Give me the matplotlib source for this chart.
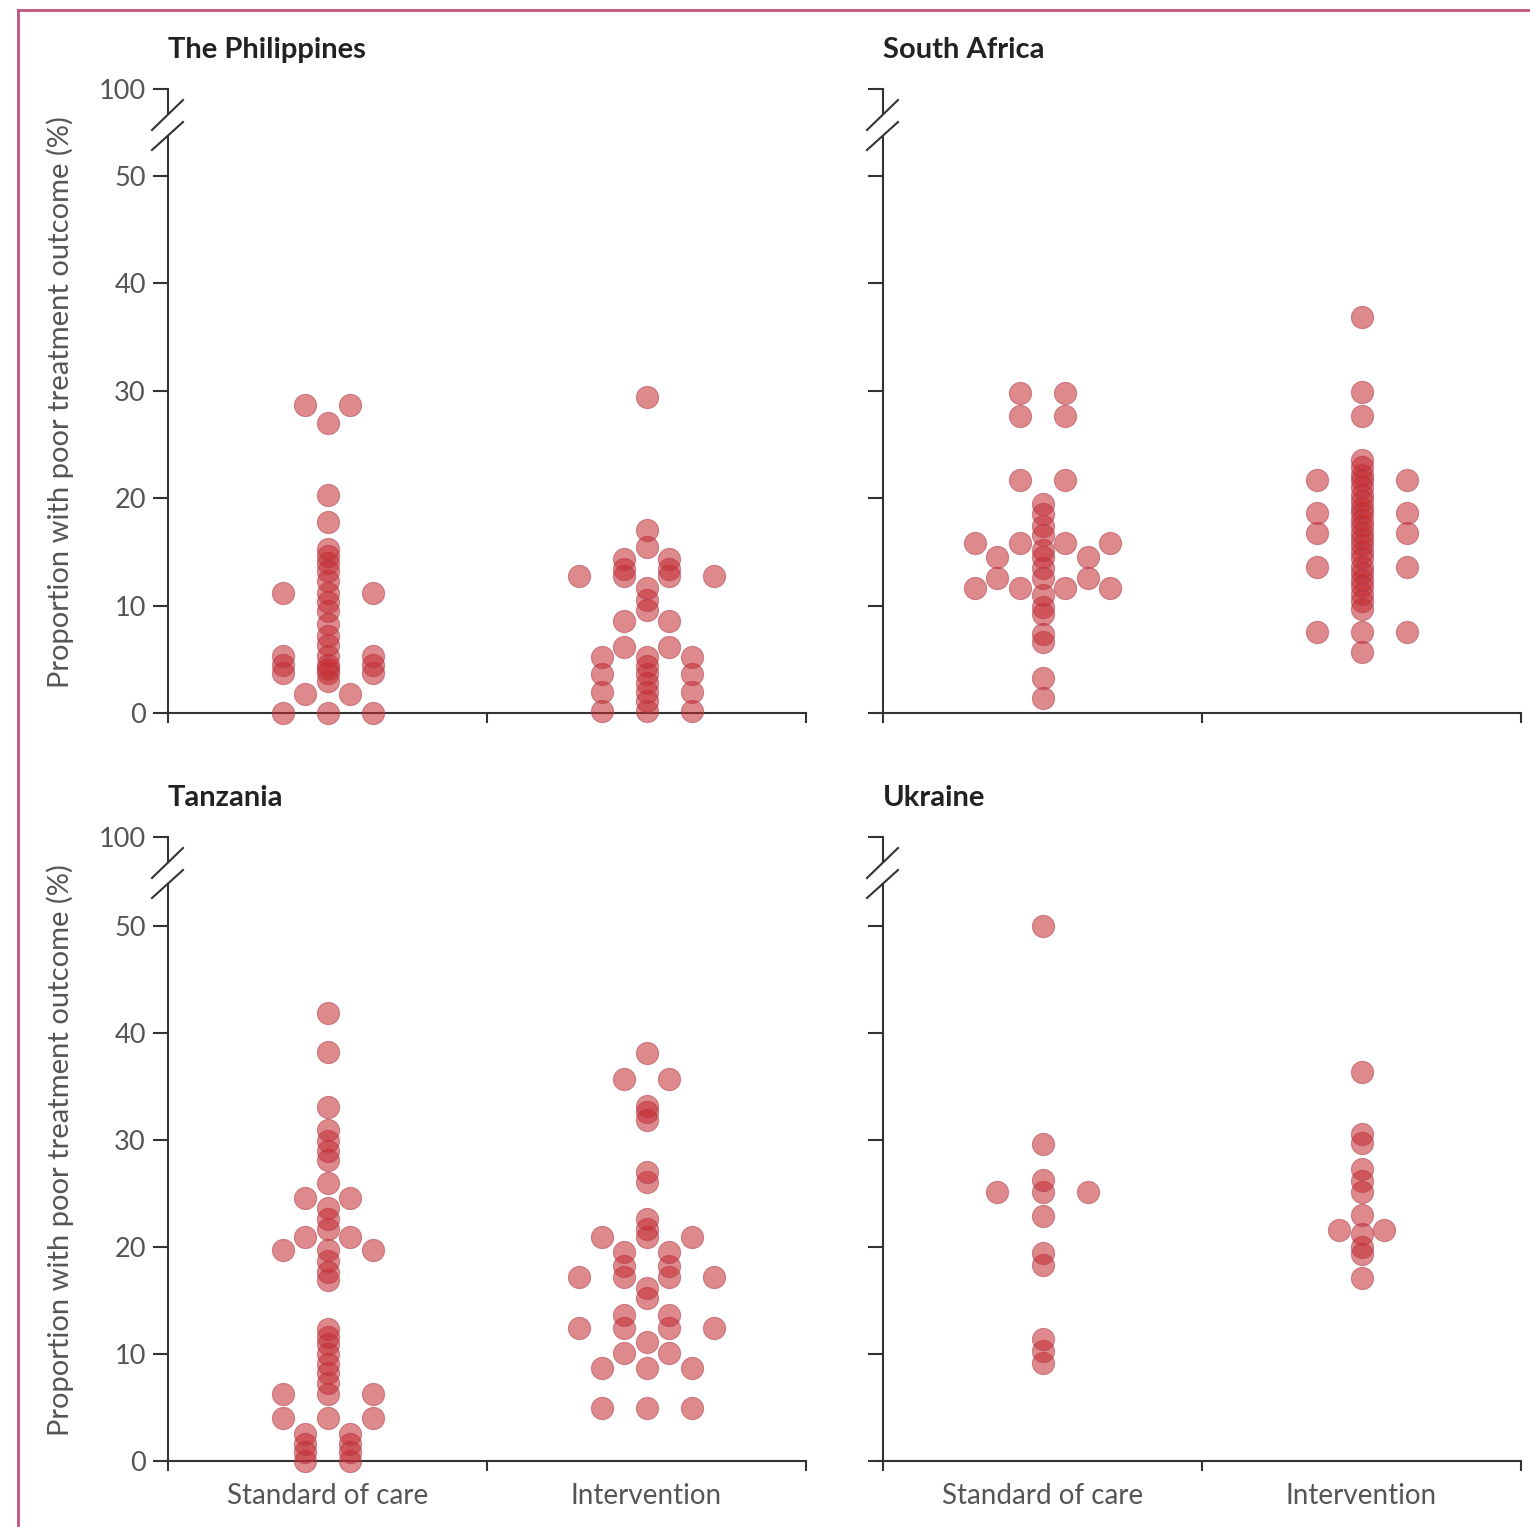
import matplotlib
matplotlib.use('Agg')
import matplotlib.pyplot as plt
from matplotlib.lines import Line2D
from collections import Counter

plt.rcParams['font.family'] = ['Lato', 'DejaVu Sans']

# cluster-level proportions (%)
countries = ['The Philippines', 'South Africa', 'Tanzania', 'Ukraine']
arms = ['Standard of care', 'Intervention']

phil_soc = [0, 0, 0, 1.8, 1.8, 3.0, 3.7, 3.7, 3.7, 4.1, 4.5, 4.5, 4.5, 5.3, 5.3, 5.3,
            6.3, 7.2, 8.3, 9.5, 10.3, 11.2, 11.2, 11.2, 12.3, 13.2, 14.0, 14.6, 15.3,
            17.8, 20.3, 27.0, 28.7, 28.7]
phil_int = [0.2, 0.2, 0.2, 1.1, 2.0, 2.0, 2.0, 2.8, 3.6, 3.6, 3.6, 4.4, 5.2, 5.2, 5.2,
            6.1, 6.1, 8.6, 8.6, 9.6, 10.5, 11.6, 12.8, 12.8, 12.8, 12.8, 13.4, 13.4,
            14.3, 14.3, 15.5, 17.0, 29.4]
sa_soc = [1.4, 3.3, 6.6, 7.4, 9.2, 9.9, 11.0, 11.6, 11.6, 11.6, 11.6, 12.6, 12.6, 12.6,
          13.5, 14.5, 14.5, 14.5, 15.2, 15.8, 15.8, 15.8, 15.8, 16.6, 17.4, 18.5, 19.5,
          21.7, 21.7, 27.7, 27.7, 29.8, 29.8]
sa_int = [5.7, 7.5, 7.5, 7.5, 9.7, 10.4, 11.1, 11.8, 12.4, 13.0, 13.6, 13.6, 13.6, 14.4,
          15.0, 15.6, 16.2, 16.8, 16.8, 16.8, 17.4, 18.0, 18.6, 18.6, 18.6, 19.1, 19.7,
          20.3, 21.0, 21.7, 21.7, 21.7, 22.2, 22.9, 23.6, 27.7, 29.9, 36.9]
tan_soc = [0, 0, 0.8, 0.8, 1.6, 1.6, 2.5, 2.5, 4.0, 4.0, 4.0, 6.3, 6.3, 6.3, 7.3, 8.2,
           9.1, 10.0, 10.9, 11.6, 12.3, 16.9, 17.7, 18.7, 19.7, 19.7, 19.7, 20.9, 20.9,
           21.7, 22.6, 23.6, 24.6, 24.6, 26.0, 28.1, 29.0, 29.9, 30.9, 33.1, 38.2, 41.9]
tan_int = [5.0, 5.0, 5.0, 8.7, 8.7, 8.7, 10.1, 10.1, 11.1, 12.4, 12.4, 12.4, 12.4, 13.6,
           13.6, 15.2, 16.2, 17.2, 17.2, 17.2, 17.2, 18.2, 18.2, 19.5, 19.5, 20.9, 20.9,
           20.9, 21.7, 22.6, 26.1, 27.0, 31.9, 32.6, 33.2, 35.7, 35.7, 38.1]
ukr_soc = [9.2, 10.3, 11.4, 18.3, 19.4, 22.9, 25.1, 25.1, 25.1, 26.3, 29.6, 50.0]
ukr_int = [17.1, 19.3, 20.0, 21.2, 21.6, 21.6, 23.0, 25.1, 26.2, 27.3, 29.7, 30.6, 36.4]

panel_data = [(phil_soc, phil_int), (sa_soc, sa_int), (tan_soc, tan_int), (ukr_soc, ukr_int)]
yticks = [0, 10, 20, 30, 40, 50]

W, H = 1530, 1527
fig = plt.figure(figsize=(W / 100, H / 100), dpi=100)

def fx(px):
    return px / W

def fy(py):
    return 1 - py / H

def offsets(values, step):
    # equal values are spread side by side, centred on the group
    counts = Counter(values)
    seen = Counter()
    out = []
    for v in values:
        n = counts[v]
        out.append((seen[v] - (n - 1) / 2) * step)
        seen[v] += 1
    return out

axis_col = '#333333'
tick_col = '#555555'
dot_col = '#c42a30'
lefts = [168, 883]
zeros = [713, 1461]
scales = [10.74, 10.7]
width_px = 638
unit_px = width_px / 2

for i, title in enumerate(countries):
    row, col = divmod(i, 2)
    left, y0, sc = lefts[col], zeros[row], scales[row]

    ax = fig.add_axes([fx(left - 4), fy(y0), (width_px + 4) / W, 577 / H])
    ax.set_ylim(0, 577 / sc)
    ax.set_xlim(-4 / unit_px, 2)
    for s in ['top', 'right']:
        ax.spines[s].set_visible(False)
    for s in ['left', 'bottom']:
        ax.spines[s].set_color(axis_col)
        ax.spines[s].set_linewidth(1.5)
    ax.spines['left'].set_position(('data', 0))
    ax.set_yticks(yticks)
    ax.tick_params(axis='y', length=11, width=1.5, color=axis_col, labelsize=19.5,
                   labelcolor=tick_col, pad=5, labelleft=(col == 0))
    ax.set_xticks([0, 1, 2])
    ax.set_xticklabels([])
    ax.tick_params(axis='x', which='major', length=7, width=1.5, color=axis_col)
    ax.set_xticks([0.5, 1.5], minor=True)
    if row == 1:
        ax.set_xticklabels(arms, minor=True)
    ax.tick_params(axis='x', which='minor', length=0, labelsize=20,
                   labelcolor=tick_col, pad=16)

    step = 45 / unit_px
    for g, vals in enumerate(panel_data[i]):
        xs = [g + 0.5 + o for o in offsets(vals, step)]
        ax.scatter(xs, vals, s=255, color=dot_col, alpha=0.55, linewidths=0.8,
                   edgecolors='#b04050', clip_on=False, zorder=3)

    # short upper segment carrying the 100 tick
    top = fig.add_axes([fx(left), fy(y0 - 599), width_px / W, 25 / H])
    top.set_ylim(100 - 25 / sc, 100)
    top.set_xlim(0, 2)
    top.patch.set_visible(False)
    for s in ['top', 'right', 'bottom']:
        top.spines[s].set_visible(False)
    top.spines['left'].set_color(axis_col)
    top.spines['left'].set_linewidth(1.5)
    top.set_xticks([])
    top.set_yticks([100])
    top.tick_params(axis='y', length=11, width=1.5, color=axis_col, labelsize=19.5,
                    labelcolor=tick_col, pad=5, labelleft=(col == 0))

    # break marks
    for a, b in [(583, 613), (563, 591)]:
        fig.add_artist(Line2D([fx(left - 16), fx(left + 15)], [fy(y0 - a), fy(y0 - b)],
                              color=axis_col, lw=1.5))

    fig.text(fx(left), fy(y0 - 663), title, fontsize=21, fontweight='bold',
             color='#222222', ha='left', va='center')
    if col == 0:
        fig.text(fx(60), fy(y0 - 311), 'Proportion with poor treatment outcome (%)',
                 rotation=90, fontsize=21, color=tick_col, ha='center', va='center')

# frame of the journal figure
frame = '#c2537e'
fig.add_artist(Line2D([fx(18), 1], [fy(10), fy(10)], color=frame, lw=2))
fig.add_artist(Line2D([fx(18), fx(18)], [fy(10), 0], color=frame, lw=2))

fig.savefig('out.png', dpi=100)
